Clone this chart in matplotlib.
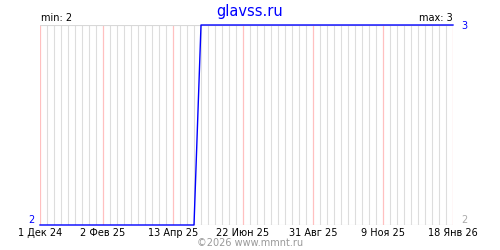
#график: glavss.ru, значение по неделям (min 2, max 3)
import pandas as pd
import matplotlib
matplotlib.use('Agg')
import matplotlib.pyplot as plt
import matplotlib.dates as mdates

# точки смены значения (ряд ступенчатый, между ними значение не меняется)
dates = ['2024-12-01', '2025-05-04', '2025-05-11', '2026-01-18']
values = [2, 2, 3, 3]

# подписи оси X
tick_dates = ['2024-12-01', '2025-02-02', '2025-04-13', '2025-06-22',
              '2025-08-31', '2025-11-09', '2026-01-18']
tick_labels = ['1 Дек 24', '2 Фев 25', '13 Апр 25', '22 Июн 25',
               '31 Авг 25', '9 Ноя 25', '18 Янв 26']

x = pd.to_datetime(dates)
ticks = pd.to_datetime(tick_dates)

plt.rcParams['font.family'] = ['DejaVu Sans']
fig = plt.figure(figsize=(5, 2.5), dpi=100)
ax = fig.add_axes([0.08, 0.1, 0.826, 0.8])

ax.set_xlim(x[0], x[-1])
ax.set_ylim(min(values), max(values))

# недельная сетка серая, основные деления розовые
ax.xaxis.set_minor_locator(mdates.WeekdayLocator(byweekday=mdates.SU))
ax.set_xticks(ticks)
ax.set_xticklabels(tick_labels)
ax.grid(which='minor', axis='x', color='#dddddd', linewidth=0.8)
ax.tick_params(axis='x', which='both', length=0, pad=2, labelsize=7)
for t in ticks:
    ax.axvline(t, color='#ffc0c0', linewidth=0.9, zorder=2)
for s in ax.spines.values():
    s.set_visible(False)
ax.axhline(min(values), color='#d8d8d8', linewidth=0.8)
ax.axhline(max(values), color='#d8d8d8', linewidth=0.8)

ax.plot(x, values, color='#0000ff', linewidth=1.0, clip_on=False, zorder=3)

# шкала слева и справа
ax.set_yticks([min(values)])
ax.set_yticklabels([str(min(values))], color='#0000ff', va='bottom')
ax.tick_params(axis='y', length=0, pad=4, labelsize=7)
ax2 = ax.twinx()
ax2.set_ylim(ax.get_ylim())
ax2.set_yticks([min(values), max(values)])
ax2.set_yticklabels([str(min(values)), str(max(values))])
ax2.get_yticklabels()[0].set_color('#aaaaaa')
ax2.get_yticklabels()[0].set_va('bottom')
ax2.get_yticklabels()[1].set_color('#0000ff')
ax2.tick_params(axis='y', length=0, pad=6, labelsize=7)
for s in ax2.spines.values():
    s.set_visible(False)

ax.text(0.003, 1.012, 'min: %d' % min(values), transform=ax.transAxes,
        fontsize=7, ha='left', va='bottom')
ax.text(1.0, 1.012, 'max: %d' % max(values), transform=ax.transAxes,
        fontsize=7, ha='right', va='bottom')
fig.text(0.5, 0.985, 'glavss.ru', color='#0000ff', fontsize=10.5,
         ha='center', va='top')
fig.text(0.5, 0.01, '©2026 www.mmnt.ru', color='#999999', fontsize=7,
         ha='center', va='bottom')

fig.savefig('out.png', dpi=100, facecolor='white')
